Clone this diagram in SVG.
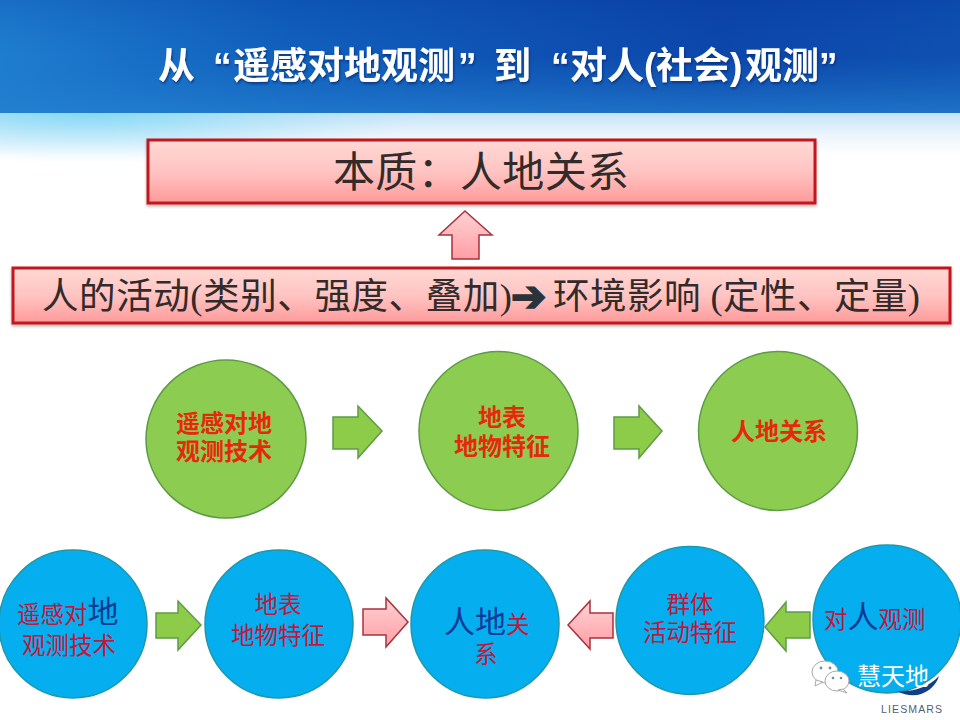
<svg xmlns="http://www.w3.org/2000/svg" width="960" height="720" viewBox="0 0 960 720">
<defs>
<linearGradient id="hdr" x1="0" y1="0" x2="1" y2="0"><stop offset="0" stop-color="#1f7fd0"/><stop offset="0.3" stop-color="#0f5cba"/><stop offset="0.75" stop-color="#0a3ea6"/><stop offset="1" stop-color="#0c4aac"/></linearGradient>
<linearGradient id="hdrLow" x1="0" y1="0" x2="0" y2="1"><stop offset="0" stop-color="#0a46a8" stop-opacity="0.3"/><stop offset="0.5" stop-color="#1a74c8" stop-opacity="0.15"/><stop offset="1" stop-color="#2480d0" stop-opacity="0.75"/></linearGradient>
<linearGradient id="fade" x1="0" y1="0" x2="0" y2="1"><stop offset="0" stop-color="#c4e4f8"/><stop offset="0.5" stop-color="#eaf4fc"/><stop offset="1" stop-color="#ffffff"/></linearGradient>
<radialGradient id="glow"><stop offset="0" stop-color="#7fd8f6" stop-opacity="0.9"/><stop offset="1" stop-color="#9fe0f8" stop-opacity="0"/></radialGradient>
<linearGradient id="pink" x1="0" y1="0" x2="0" y2="1"><stop offset="0" stop-color="#ffd8d4"/><stop offset="0.5" stop-color="#ffc4c2"/><stop offset="1" stop-color="#ff9a9a"/></linearGradient>
<linearGradient id="pinkA" x1="0" y1="0" x2="0" y2="1"><stop offset="0" stop-color="#ffd2d2"/><stop offset="1" stop-color="#ff9ea6"/></linearGradient>
<filter id="soft" x="-5%" y="-20%" width="110%" height="140%"><feDropShadow dx="0" dy="2" stdDeviation="1.600" flood-color="#000" flood-opacity="0.28"/></filter>
<filter id="tshadow" x="-5%" y="-20%" width="110%" height="140%"><feDropShadow dx="1" dy="2" stdDeviation="1" flood-color="#002a70" flood-opacity="0.7"/></filter>
<clipPath id="below"><rect y="113" width="960" height="80"/></clipPath>
</defs>
<style>
text{font-family:"Liberation Sans","Noto Sans CJK SC",sans-serif}
.box{fill:url(#pink);stroke:#c4161c;stroke-width:3;filter:url(#soft)}
.dark{fill:#332a2a}
.mix{font-family:"Liberation Serif","Noto Sans CJK SC",serif}
.gc{fill:#8ccc50;stroke:#5f9a48;stroke-width:1.500}
.bc{fill:#05aeee;stroke:#1c98a8;stroke-width:1.500}
.ga{fill:#8ccc48;stroke:#5f9a48;stroke-width:1.500}
.pa{fill:url(#pinkA);stroke:#a8323c;stroke-width:1.500}
.rt{fill:#e6290c;font-size:24px;font-weight:700;text-anchor:middle}
.bt{fill:#c4163c;font-size:23.500px;text-anchor:middle}
.st{text-anchor:start}
.nv{fill:#0c3a96;font-size:31px}
.bub{fill:#ffffff;stroke:#a8a8a8;stroke-width:1}
.eye{fill:#6a8e9a}
</style>
<rect width="960" height="720" fill="#ffffff"/>
<g id="header">
<rect width="960" height="113" fill="url(#hdr)"/>
<rect width="960" height="113" fill="url(#hdrLow)"/>
<rect y="113" width="960" height="42" fill="url(#fade)"/>
<ellipse cx="90" cy="113" rx="330" ry="50" fill="url(#glow)" clip-path="url(#below)"/>
</g>
<text id="title" y="79" font-size="37" font-weight="700" fill="#ffffff" filter="url(#tshadow)"><tspan x="158">从</tspan><tspan x="213">“</tspan><tspan x="233">遥感对地观测</tspan><tspan x="458">”</tspan><tspan x="494">到</tspan><tspan x="551">“</tspan><tspan x="570">对人</tspan><tspan x="644">(</tspan><tspan x="656">社会</tspan><tspan x="730">)</tspan><tspan x="745">观测</tspan><tspan x="819">”</tspan></text>
<g id="essence">
<rect class="box" x="148" y="140" width="667" height="63"/>
<text class="dark" x="333" y="187" font-size="42" textLength="296">本质：人地关系</text>
</g>
<g id="activity">
<rect class="box" x="13" y="268" width="937" height="55"/>
<text class="dark mix" x="42" y="309" font-size="36.500" textLength="470">人的活动(类别、强度、叠加)</text>
<text x="511" y="311" font-size="42" fill="#2b3238" stroke="#2b3238" stroke-width="2" style="font-family:'DejaVu Sans',sans-serif">➔</text>
<text class="dark mix" x="553" y="309" font-size="36.500" textLength="367">环境影响 (定性、定量)</text>
</g>
<g id="connectors">
<polygon class="pa" points="465,211 492,235 479,235 479,259 452,259 452,235 439,235"/>
<polygon class="ga" points="333,417 358,417 358,406 382,431 358,458 358,449 333,449"/>
<polygon class="ga" points="614,417 639,417 639,406 662,431 639,458 639,449 614,449"/>
<polygon class="ga" points="156,613 178,613 178,601 201,625 178,650 178,638 156,638"/>
<polygon class="pa" points="363,609 386,609 386,598 408,622 386,647 386,635 363,635"/>
<polygon class="pa" points="613,613 590,613 590,601 568,625 590,649 590,638 613,638"/>
<polygon class="ga" points="810,612 786,612 786,602 765,627 786,651 786,638 810,638"/>
</g>
<g id="top-1"><ellipse class="gc" cx="226" cy="439" rx="80" ry="79"/><text class="rt" x="224" y="432">遥感对地</text><text class="rt" x="224" y="460">观测技术</text></g>
<g id="top-2"><circle class="gc" cx="498.500" cy="431" r="79.500"/><text class="rt" x="502" y="426">地表</text><text class="rt" x="502" y="455">地物特征</text></g>
<g id="top-3"><circle class="gc" cx="778" cy="431" r="79.500"/><text class="rt" x="779" y="440">人地关系</text></g>
<g id="bottom-1"><circle class="bc" cx="73" cy="624" r="74"/><text class="bt st" x="17" y="623">遥感对<tspan class="nv">地</tspan></text><text class="bt" x="69" y="654">观测技术</text></g>
<g id="bottom-2"><circle class="bc" cx="279" cy="624" r="74"/><text class="bt" x="278" y="613">地表</text><text class="bt" x="278" y="644">地物特征</text></g>
<g id="bottom-3"><circle class="bc" cx="485" cy="624" r="74"/><text class="bt st" x="444" y="633"><tspan class="nv">人地</tspan>关</text><text class="bt" x="486" y="663">系</text></g>
<g id="bottom-4"><circle class="bc" cx="690" cy="620.500" r="74"/><text class="bt" x="690" y="613">群体</text><text class="bt" x="690" y="641">活动特征</text></g>
<g id="bottom-5"><circle class="bc" cx="887" cy="619" r="74"/><text class="bt st" x="824" y="628">对<tspan class="nv">人</tspan>观测</text></g>
<g id="logo">
<path d="M897,691 C914,692 929,687 939,676 C935,690 917,702 897,691 Z" fill="#123f86"/>
<ellipse cx="825" cy="672" rx="13" ry="11" class="bub"/>
<path d="M816,680 L815,686 L823,682 Z" class="bub"/>
<ellipse cx="837" cy="681" rx="12" ry="10" class="bub"/>
<path d="M843,689 L847,693 L838,690 Z" class="bub"/>
<circle cx="821" cy="668" r="1.400" class="eye"/><circle cx="830" cy="668" r="1.400" class="eye"/>
<circle cx="833" cy="678" r="1.300" class="eye"/><circle cx="841" cy="678" r="1.300" class="eye"/>
<text x="857" y="685" font-size="24" fill="#ffffff">慧天地</text>
<text x="881" y="713" font-size="10.500" fill="#4f5f78" textLength="61">LIESMARS</text>
</g>
</svg>
